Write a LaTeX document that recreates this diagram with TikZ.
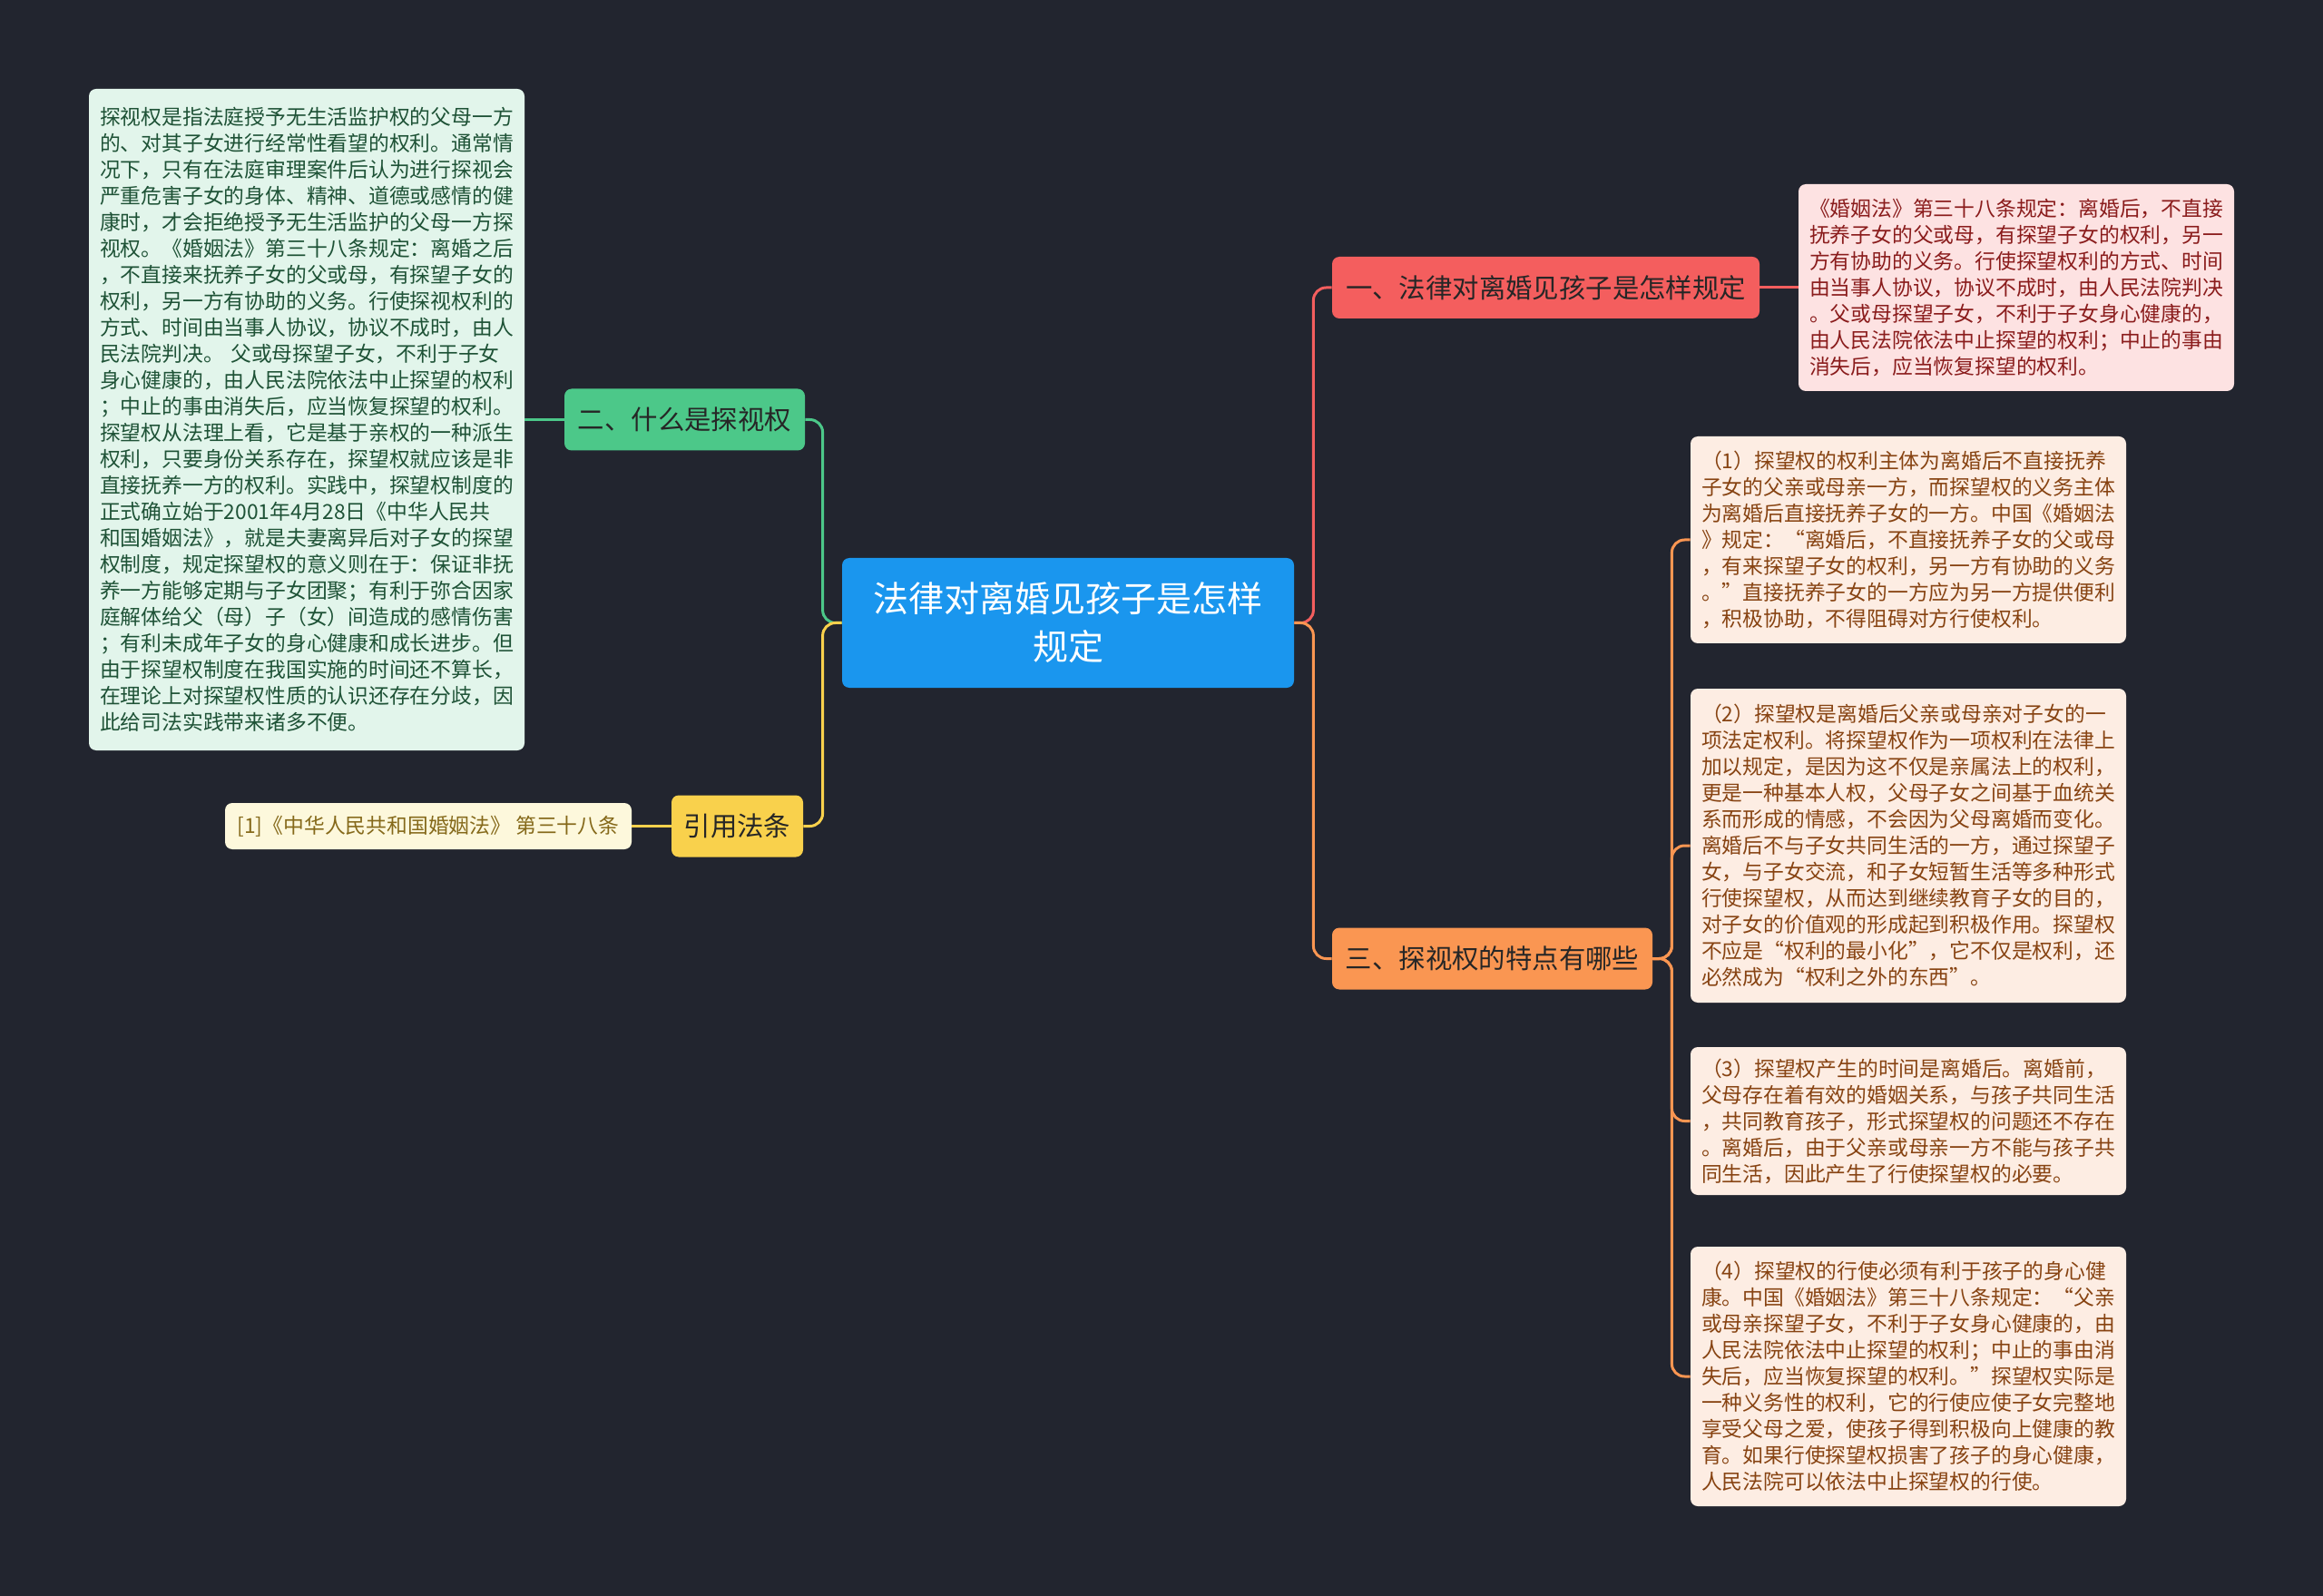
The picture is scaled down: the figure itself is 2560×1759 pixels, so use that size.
\documentclass[tikz,border=0pt]{standalone}
\usepackage{fontspec}
\setmainfont{Noto Sans CJK SC}
\usepackage{xcolor}
\usepackage{tikz}
\usetikzlibrary{positioning, calc}

\definecolor{bgdark}{HTML}{22252F}
\definecolor{rootblue}{HTML}{1A96EE}
\definecolor{redbr}{HTML}{F45E5E}
\definecolor{greenbr}{HTML}{4CC889}
\definecolor{yellowbr}{HTML}{F9D14C}
\definecolor{orangebr}{HTML}{FA9652}
\definecolor{pinkleaf}{HTML}{FDE2E2}
\definecolor{greenleaf}{HTML}{E2F5EB}
\definecolor{creamleaf}{HTML}{FDF8DC}
\definecolor{peachleaf}{HTML}{FDEDE3}
\definecolor{pinktext}{HTML}{8A1C1C}
\definecolor{greentext}{HTML}{1E5236}
\definecolor{creamtext}{HTML}{85691A}
\definecolor{peachtext}{HTML}{874312}

\tikzset{
  topic/.style={rounded corners=4pt, align=center, inner sep=0pt},
  branch/.style={topic, minimum height=34pt, text=black!85,
    font=\fontsize{14.7pt}{17pt}\selectfont},
  leaf/.style={rounded corners=4pt, inner xsep=6pt, inner ysep=0pt, align=left,
    text width=228pt, font=\fontsize{11.4pt}{14.5pt}\selectfont},
  link/.style={line width=1.5pt, rounded corners=7pt},
}

\begin{document}
\begin{tikzpicture}[x=0.5pt, y=-0.5pt]
  \fill[bgdark] (0,0) rectangle (2560,1759);
  \useasboundingbox (0,0) rectangle (2560,1759);

  % root
  \node[topic, fill=rootblue, text=white, minimum width=249pt, minimum height=71.5pt,
    font=\fontsize{19.5pt}{26.5pt}\selectfont] (root) at (1177,686.5)
    {法律对离婚见孩子是怎样\\规定};

  % branches
  \node[branch, fill=redbr, minimum width=235.5pt] (rule) at (1703.5,317) {一、法律对离婚见孩子是怎样规定};
  \node[branch, fill=greenbr, minimum width=132.5pt] (what) at (754.5,462.5) {二、什么是探视权};
  \node[branch, fill=yellowbr, minimum width=72.5pt] (cite) at (812.5,910.5) {引用法条};
  \node[branch, fill=orangebr, minimum width=176.5pt] (traits) at (1644.5,1056.5) {三、探视权的特点有哪些};

  % leaves
  \node[leaf, fill=pinkleaf, text=pinktext, minimum height=114pt] (ruletext) at (2222,317) {%
《婚姻法》第三十八条规定：离婚后，不直接\\
抚养子女的父或母，有探望子女的权利，另一\\
方有协助的义务。行使探望权利的方式、时间\\
由当事人协议，协议不成时，由人民法院判决\\
。父或母探望子女，不利于子女身心健康的，\\
由人民法院依法中止探望的权利；中止的事由\\
消失后，应当恢复探望的权利。};

  \node[leaf, fill=greenleaf, text=greentext, minimum height=364.5pt] (whattext) at (338,462.5) {%
探视权是指法庭授予无生活监护权的父母一方\\
的、对其子女进行经常性看望的权利。通常情\\
况下，只有在法庭审理案件后认为进行探视会\\
严重危害子女的身体、精神、道德或感情的健\\
康时，才会拒绝授予无生活监护的父母一方探\\
视权。《婚姻法》第三十八条规定：离婚之后\\
，不直接来抚养子女的父或母，有探望子女的\\
权利，另一方有协助的义务。行使探视权利的\\
方式、时间由当事人协议，协议不成时，由人\\
民法院判决。 父或母探望子女，不利于子女\\
身心健康的，由人民法院依法中止探望的权利\\
；中止的事由消失后，应当恢复探望的权利。\\
探望权从法理上看，它是基于亲权的一种派生\\
权利，只要身份关系存在，探望权就应该是非\\
直接抚养一方的权利。实践中，探望权制度的\\
正式确立始于2001年4月28日《中华人民共\\
和国婚姻法》，就是夫妻离异后对子女的探望\\
权制度，规定探望权的意义则在于：保证非抚\\
养一方能够定期与子女团聚；有利于弥合因家\\
庭解体给父（母）子（女）间造成的感情伤害\\
；有利未成年子女的身心健康和成长进步。但\\
由于探望权制度在我国实施的时间还不算长，\\
在理论上对探望权性质的认识还存在分歧，因\\
此给司法实践带来诸多不便。};

  \node[topic, fill=creamleaf, text=creamtext, minimum width=224pt, minimum height=25.5pt,
    font=\fontsize{11.4pt}{14.5pt}\selectfont] (citetext) at (472,910.5)
    {[1]《中华人民共和国婚姻法》 第三十八条};

  \node[leaf, fill=peachleaf, text=peachtext, minimum height=114pt] (trait1) at (2103,595) {%
（1）探望权的权利主体为离婚后不直接抚养\\
子女的父亲或母亲一方，而探望权的义务主体\\
为离婚后直接抚养子女的一方。中国《婚姻法\\
》规定：“离婚后，不直接抚养子女的父或母\\
，有来探望子女的权利，另一方有协助的义务\\
。”直接抚养子女的一方应为另一方提供便利\\
，积极协助，不得阻碍对方行使权利。};

  \node[leaf, fill=peachleaf, text=peachtext, minimum height=173pt] (trait2) at (2103,932) {%
（2）探望权是离婚后父亲或母亲对子女的一\\
项法定权利。将探望权作为一项权利在法律上\\
加以规定，是因为这不仅是亲属法上的权利，\\
更是一种基本人权，父母子女之间基于血统关\\
系而形成的情感，不会因为父母离婚而变化。\\
离婚后不与子女共同生活的一方，通过探望子\\
女，与子女交流，和子女短暂生活等多种形式\\
行使探望权，从而达到继续教育子女的目的，\\
对子女的价值观的形成起到积极作用。探望权\\
不应是“权利的最小化”，它不仅是权利，还\\
必然成为“权利之外的东西”。};

  \node[leaf, fill=peachleaf, text=peachtext, minimum height=81.5pt] (trait3) at (2103,1235.5) {%
（3）探望权产生的时间是离婚后。离婚前，\\
父母存在着有效的婚姻关系，与孩子共同生活\\
，共同教育孩子，形式探望权的问题还不存在\\
。离婚后，由于父亲或母亲一方不能与孩子共\\
同生活，因此产生了行使探望权的必要。};

  \node[leaf, fill=peachleaf, text=peachtext, minimum height=143pt] (trait4) at (2103,1517) {%
（4）探望权的行使必须有利于孩子的身心健\\
康。中国《婚姻法》第三十八条规定：“父亲\\
或母亲探望子女，不利于子女身心健康的，由\\
人民法院依法中止探望的权利；中止的事由消\\
失后，应当恢复探望的权利。”探望权实际是\\
一种义务性的权利，它的行使应使子女完整地\\
享受父母之爱，使孩子得到积极向上健康的教\\
育。如果行使探望权损害了孩子的身心健康，\\
人民法院可以依法中止探望权的行使。};

  % connectors
  \draw[link, greenbr] (root.west) -- ++(-10.5pt,0) |- (what.east);
  \draw[link, yellowbr] (root.west) -- ++(-10.5pt,0) |- (cite.east);
  \draw[link, redbr] (root.east) -- ++(10.5pt,0) |- (rule.west);
  \draw[link, orangebr] (root.east) -- ++(10.5pt,0) |- (traits.west);
  \draw[link, redbr] (rule.east) -- (ruletext.west);
  \draw[link, greenbr] (what.west) -- (whattext.east);
  \draw[link, yellowbr] (cite.west) -- (citetext.east);
  \foreach \n in {1,...,4}
    \draw[link, orangebr] (traits.east) -- ++(10.5pt,0) |- (trait\n.west);
\end{tikzpicture}
\end{document}
